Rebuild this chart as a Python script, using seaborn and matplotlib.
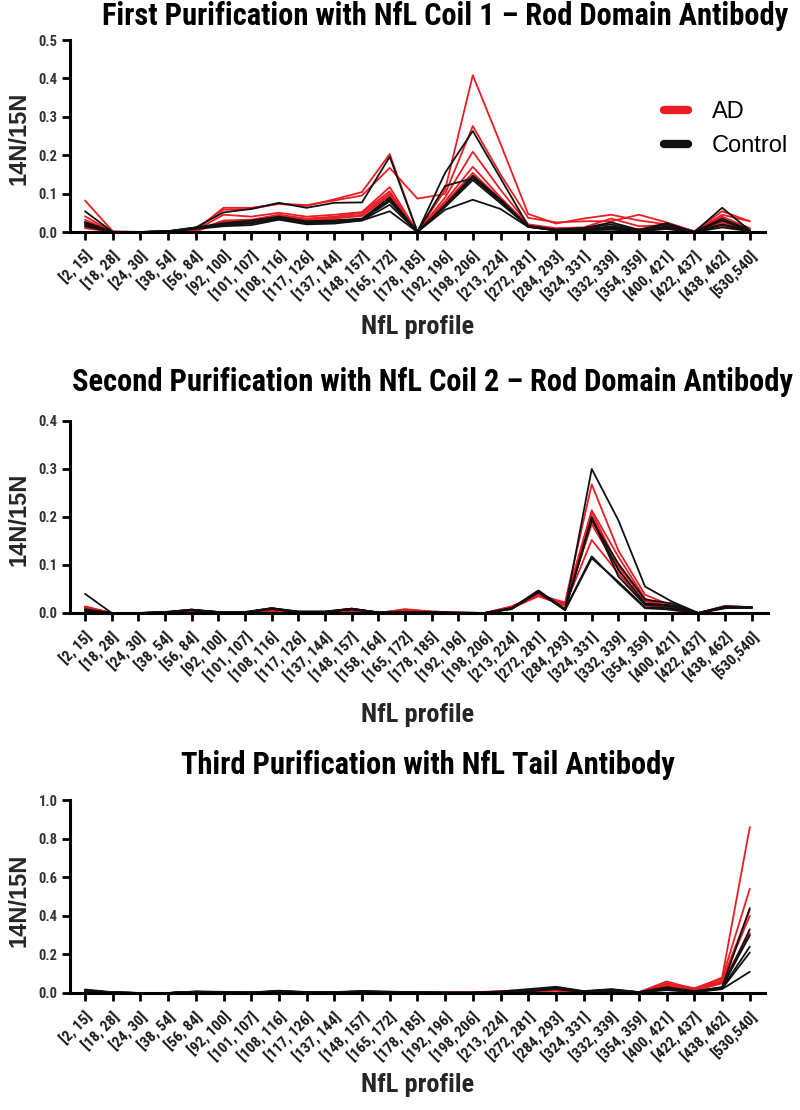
import numpy as np
import pandas as pd
import matplotlib
matplotlib.use("Agg")
import matplotlib.pyplot as plt
import seaborn as sns
from matplotlib.lines import Line2D

# ---------------- data ----------------
cats_a = ["[2, 15]", "[18, 28]", "[24, 30]", "[38, 54]", "[56, 84]", "[92, 100]",
          "[101, 107]", "[108, 116]", "[117, 126]", "[137, 144]", "[148, 157]",
          "[165, 172]", "[178, 185]", "[192, 196]", "[198, 206]", "[213, 224]",
          "[272, 281]", "[284, 293]", "[324, 331]", "[332, 339]", "[354, 359]",
          "[400, 421]", "[422, 437]", "[438, 462]", "[530,540]"]
cats_b = ["[2, 15]", "[18, 28]", "[24, 30]", "[38, 54]", "[56, 84]", "[92, 100]",
          "[101, 107]", "[108, 116]", "[117, 126]", "[137, 144]", "[148, 157]",
          "[158, 164]", "[165, 172]", "[178, 185]", "[192, 196]", "[198, 206]",
          "[213, 224]", "[272, 281]", "[284, 293]", "[324, 331]", "[332, 339]",
          "[354, 359]", "[400, 421]", "[422, 437]", "[438, 462]", "[530,540]"]

p1_ad = [
    [0.082, 0.002, 0.0, 0.002, 0.006, 0.063, 0.063, 0.073, 0.068, 0.085, 0.104, 0.203, 0.0, 0.11, 0.408, 0.23, 0.047, 0.022, 0.035, 0.045, 0.03, 0.02, 0.002, 0.045, 0.028],
    [0.041, 0.0, 0.0, 0.002, 0.008, 0.058, 0.060, 0.074, 0.07, 0.082, 0.095, 0.167, 0.087, 0.099, 0.276, 0.15, 0.037, 0.025, 0.028, 0.028, 0.045, 0.025, 0.002, 0.054, 0.028],
    [0.032, 0.0, 0.0, 0.001, 0.005, 0.045, 0.04, 0.05, 0.04, 0.045, 0.052, 0.117, 0.0, 0.09, 0.209, 0.11, 0.02, 0.01, 0.012, 0.035, 0.015, 0.018, 0.0, 0.04, 0.01],
    [0.013, 0.0, 0.0, 0.001, 0.004, 0.03, 0.032, 0.045, 0.035, 0.04, 0.05, 0.106, 0.0, 0.08, 0.17, 0.09, 0.018, 0.008, 0.01, 0.01, 0.008, 0.012, 0.0, 0.03, 0.008],
    [0.02, 0.0, 0.0, 0.001, 0.003, 0.028, 0.03, 0.042, 0.033, 0.038, 0.045, 0.1, 0.0, 0.075, 0.154, 0.085, 0.016, 0.006, 0.008, 0.012, 0.006, 0.01, 0.0, 0.025, 0.006],
    [0.01, 0.0, 0.0, 0.0, 0.002, 0.025, 0.028, 0.04, 0.03, 0.035, 0.042, 0.095, 0.0, 0.07, 0.145, 0.08, 0.015, 0.005, 0.006, 0.008, 0.005, 0.008, 0.0, 0.015, 0.005],
]
p1_ctrl = [
    [0.054, 0.0, 0.0, 0.002, 0.012, 0.051, 0.06, 0.076, 0.063, 0.076, 0.077, 0.196, 0.0, 0.154, 0.263, 0.14, 0.016, 0.006, 0.01, 0.025, 0.006, 0.023, 0.0, 0.063, 0.004],
    [0.026, 0.0, 0.0, 0.002, 0.012, 0.023, 0.03, 0.04, 0.028, 0.03, 0.035, 0.09, 0.0, 0.07, 0.147, 0.085, 0.015, 0.006, 0.01, 0.02, 0.004, 0.02, 0.0, 0.035, 0.005],
    [0.022, 0.0, 0.0, 0.002, 0.01, 0.02, 0.025, 0.035, 0.025, 0.028, 0.032, 0.08, 0.0, 0.068, 0.141, 0.08, 0.014, 0.005, 0.006, 0.015, 0.003, 0.015, 0.0, 0.02, 0.004],
    [0.018, 0.0, 0.0, 0.001, 0.01, 0.018, 0.022, 0.035, 0.022, 0.025, 0.03, 0.071, 0.0, 0.065, 0.135, 0.075, 0.014, 0.004, 0.005, 0.01, 0.003, 0.01, 0.0, 0.019, 0.003],
    [0.015, 0.0, 0.0, 0.001, 0.008, 0.015, 0.018, 0.032, 0.02, 0.022, 0.03, 0.054, 0.0, 0.058, 0.084, 0.06, 0.013, 0.004, 0.004, 0.006, 0.002, 0.008, 0.0, 0.012, 0.002],
    [0.025, 0.0, 0.0, 0.001, 0.01, 0.02, 0.024, 0.037, 0.026, 0.03, 0.033, 0.085, 0.0, 0.12, 0.14, 0.082, 0.014, 0.005, 0.007, 0.012, 0.004, 0.012, 0.0, 0.03, 0.004],
]

p2_ad = [
    [0.014, 0.0, 0.0, 0.001, 0.006, 0.002, 0.001, 0.003, 0.002, 0.002, 0.004, 0.0, 0.007, 0.003, 0.001, 0.0, 0.013, 0.038, 0.022, 0.268, 0.13, 0.038, 0.015, 0.0, 0.015, 0.012],
    [0.012, 0.0, 0.0, 0.001, 0.005, 0.002, 0.001, 0.004, 0.002, 0.002, 0.004, 0.0, 0.008, 0.003, 0.001, 0.0, 0.012, 0.036, 0.02, 0.214, 0.117, 0.03, 0.012, 0.0, 0.014, 0.012],
    [0.01, 0.0, 0.0, 0.0, 0.006, 0.002, 0.001, 0.003, 0.001, 0.001, 0.003, 0.0, 0.006, 0.002, 0.0, 0.0, 0.011, 0.04, 0.018, 0.21, 0.097, 0.028, 0.01, 0.0, 0.012, 0.011],
    [0.008, 0.0, 0.0, 0.0, 0.004, 0.001, 0.0, 0.002, 0.001, 0.001, 0.003, 0.0, 0.005, 0.002, 0.0, 0.0, 0.01, 0.035, 0.015, 0.185, 0.09, 0.02, 0.008, 0.0, 0.012, 0.012],
    [0.006, 0.0, 0.0, 0.0, 0.003, 0.001, 0.0, 0.002, 0.001, 0.0, 0.002, 0.0, 0.004, 0.001, 0.0, 0.0, 0.012, 0.037, 0.016, 0.152, 0.083, 0.017, 0.006, 0.0, 0.01, 0.013],
    [0.012, 0.0, 0.0, 0.0, 0.005, 0.001, 0.0, 0.003, 0.001, 0.001, 0.003, 0.0, 0.006, 0.002, 0.0, 0.0, 0.014, 0.039, 0.019, 0.2, 0.1, 0.025, 0.01, 0.0, 0.013, 0.012],
]
p2_ctrl = [
    [0.04, 0.0, 0.0, 0.002, 0.007, 0.002, 0.002, 0.01, 0.003, 0.003, 0.009, 0.001, 0.002, 0.002, 0.001, 0.0, 0.01, 0.045, 0.007, 0.30, 0.193, 0.055, 0.024, 0.0, 0.014, 0.012],
    [0.008, 0.0, 0.0, 0.002, 0.007, 0.002, 0.002, 0.01, 0.003, 0.003, 0.009, 0.001, 0.002, 0.001, 0.0, 0.0, 0.01, 0.046, 0.008, 0.193, 0.103, 0.028, 0.02, 0.0, 0.01, 0.012],
    [0.005, 0.0, 0.0, 0.001, 0.006, 0.001, 0.001, 0.009, 0.002, 0.002, 0.008, 0.001, 0.001, 0.001, 0.0, 0.0, 0.009, 0.044, 0.006, 0.2, 0.076, 0.017, 0.014, 0.0, 0.012, 0.011],
    [0.006, 0.0, 0.0, 0.001, 0.006, 0.001, 0.001, 0.009, 0.002, 0.002, 0.008, 0.001, 0.001, 0.001, 0.0, 0.0, 0.009, 0.043, 0.007, 0.118, 0.062, 0.01, 0.007, 0.0, 0.011, 0.011],
    [0.004, 0.0, 0.0, 0.001, 0.006, 0.001, 0.001, 0.008, 0.002, 0.002, 0.008, 0.001, 0.001, 0.001, 0.0, 0.0, 0.008, 0.045, 0.006, 0.114, 0.065, 0.012, 0.01, 0.0, 0.013, 0.01],
    [0.005, 0.0, 0.0, 0.001, 0.007, 0.001, 0.001, 0.01, 0.002, 0.002, 0.009, 0.001, 0.001, 0.001, 0.0, 0.0, 0.01, 0.047, 0.008, 0.195, 0.09, 0.02, 0.016, 0.0, 0.012, 0.012],
]

p3_ad = [
    [0.015, 0.002, 0.0, 0.0, 0.006, 0.005, 0.002, 0.008, 0.004, 0.004, 0.006, 0.005, 0.003, 0.002, 0.003, 0.01, 0.015, 0.02, 0.008, 0.01, 0.004, 0.06, 0.02, 0.08, 0.86],
    [0.012, 0.002, 0.0, 0.0, 0.005, 0.004, 0.002, 0.007, 0.003, 0.003, 0.005, 0.004, 0.003, 0.002, 0.002, 0.008, 0.012, 0.018, 0.006, 0.008, 0.003, 0.052, 0.025, 0.075, 0.54],
    [0.01, 0.001, 0.0, 0.0, 0.004, 0.004, 0.001, 0.006, 0.003, 0.003, 0.004, 0.003, 0.002, 0.001, 0.002, 0.006, 0.01, 0.015, 0.005, 0.007, 0.003, 0.045, 0.018, 0.06, 0.40],
    [0.008, 0.001, 0.0, 0.0, 0.004, 0.003, 0.001, 0.005, 0.002, 0.002, 0.004, 0.003, 0.002, 0.001, 0.001, 0.005, 0.01, 0.012, 0.004, 0.006, 0.002, 0.04, 0.015, 0.055, 0.31],
    [0.01, 0.001, 0.0, 0.0, 0.005, 0.004, 0.002, 0.006, 0.003, 0.003, 0.005, 0.003, 0.002, 0.001, 0.002, 0.007, 0.011, 0.016, 0.005, 0.008, 0.003, 0.035, 0.02, 0.065, 0.43],
    [0.009, 0.001, 0.0, 0.0, 0.004, 0.003, 0.001, 0.005, 0.002, 0.002, 0.004, 0.002, 0.002, 0.001, 0.001, 0.006, 0.009, 0.014, 0.004, 0.006, 0.002, 0.03, 0.012, 0.05, 0.30],
]
p3_ctrl = [
    [0.018, 0.004, 0.0, 0.0, 0.008, 0.006, 0.003, 0.012, 0.005, 0.005, 0.01, 0.007, 0.004, 0.002, 0.002, 0.008, 0.02, 0.032, 0.01, 0.02, 0.005, 0.03, 0.01, 0.03, 0.44],
    [0.015, 0.003, 0.0, 0.0, 0.007, 0.005, 0.002, 0.01, 0.004, 0.004, 0.008, 0.006, 0.003, 0.002, 0.002, 0.006, 0.015, 0.028, 0.008, 0.018, 0.004, 0.025, 0.008, 0.028, 0.33],
    [0.012, 0.003, 0.0, 0.0, 0.006, 0.005, 0.002, 0.009, 0.004, 0.004, 0.008, 0.005, 0.003, 0.001, 0.001, 0.005, 0.012, 0.025, 0.007, 0.015, 0.004, 0.022, 0.006, 0.025, 0.24],
    [0.01, 0.002, 0.0, 0.0, 0.005, 0.004, 0.002, 0.008, 0.003, 0.003, 0.007, 0.004, 0.002, 0.001, 0.001, 0.004, 0.01, 0.022, 0.006, 0.012, 0.003, 0.02, 0.005, 0.022, 0.21],
    [0.008, 0.002, 0.0, 0.0, 0.004, 0.003, 0.001, 0.007, 0.003, 0.003, 0.006, 0.003, 0.002, 0.001, 0.001, 0.004, 0.009, 0.02, 0.005, 0.01, 0.003, 0.015, 0.004, 0.02, 0.11],
    [0.012, 0.003, 0.0, 0.0, 0.006, 0.004, 0.002, 0.009, 0.004, 0.004, 0.008, 0.005, 0.003, 0.002, 0.001, 0.005, 0.012, 0.03, 0.008, 0.016, 0.004, 0.025, 0.007, 0.03, 0.30],
]

titles = ["First Purification with NfL Coil 1 \u2013 Rod Domain Antibody",
          "Second Purification with NfL Coil 2 \u2013 Rod Domain Antibody",
          "Third Purification with NfL Tail Antibody"]
ylims = [0.5, 0.4, 1.0]
ysteps = [0.1, 0.1, 0.2]

RED = "#ec1c24"
BLACK = "#111111"


def long_frame(cats, ad, ctrl):
    rows = []
    for gname, series in (("AD", ad), ("Control", ctrl)):
        for k, s in enumerate(series):
            for c, v in zip(cats, s):
                rows.append({"cat": c, "value": v, "group": gname, "rep": f"{gname}{k}"})
    return pd.DataFrame(rows)


sns.set_theme(style="ticks")
NARROW = ["Roboto Condensed", "PT Sans Narrow", "DejaVu Sans"]
SANS = ["Liberation Sans", "DejaVu Sans"]
plt.rcParams["font.family"] = SANS
plt.rcParams["text.color"] = "black"

W, H = 800, 1110
fig = plt.figure(figsize=(W / 100, H / 100), dpi=100)

# axes boxes in pixels: left, right, top(y at ymax), bottom(y at 0)
boxes = [(70, 765, 40, 232), (70, 768, 421, 613), (70, 765, 800, 993)]
first_tick = [85, 85, 85]
spacing = [27.7, 26.67, 27.7]
title_pos = [(445, 16), (432, 382), (428, 765)]
xlabel_y = [327, 715, 1085]
ylabel_yc = [138, 519, 900]

panels = [(cats_a, p1_ad, p1_ctrl), (cats_b, p2_ad, p2_ctrl), (cats_a, p3_ad, p3_ctrl)]

for i, (cats, ad, ctrl) in enumerate(panels):
    l, r, t, b = boxes[i]
    ax = fig.add_axes([l / W, 1 - b / H, (r - l) / W, (b - t) / H])
    df = long_frame(cats, ad, ctrl)
    sns.lineplot(data=df, x="cat", y="value", hue="group", units="rep",
                 estimator=None, palette={"AD": RED, "Control": BLACK},
                 linewidth=1.3, sort=False, legend=False, ax=ax)
    n = len(cats)
    x0 = (l - first_tick[i]) / spacing[i]
    x1 = (r - first_tick[i]) / spacing[i]
    ax.set_xlim(x0, x1)
    ax.set_ylim(0, ylims[i])
    yt = np.arange(0, ylims[i] + 1e-9, ysteps[i])
    ax.set_yticks(yt)
    ax.set_yticklabels([f"{v:.1f}" for v in yt],
                       family=NARROW, fontsize=10.5, fontweight="bold", color="#333333")
    ax.set_xticks(range(n))
    ax.set_xticklabels(cats, rotation=45, ha="right", rotation_mode="anchor",
                       family=NARROW, fontsize=11, fontweight="bold", color="#1a1a1a")
    sns.despine(ax=ax)
    for s in ("left", "bottom"):
        ax.spines[s].set_linewidth(2.2)
        ax.spines[s].set_color("black")
    ax.tick_params(axis="both", direction="out", length=6, width=2, color="black", pad=3)
    ax.tick_params(axis="x", pad=6)
    ax.set_ylabel("14N/15N", family=SANS, fontsize=17, fontweight="bold")
    ax.yaxis.set_label_coords((31 - l) / (r - l), (b - ylabel_yc[i]) / (b - t))
    ax.set_xlabel("NfL profile", family=NARROW, fontsize=19, fontweight="bold")
    ax.xaxis.set_label_coords((418 - l) / (r - l), (b - xlabel_y[i]) / (b - t))
    ax.xaxis.label.set_va("center")
    tx, ty = title_pos[i]
    fig.text(tx / W, 1 - ty / H, titles[i], ha="center", va="center",
             family=NARROW, fontsize=22, fontweight="bold", color="black")
    if i == 0:
        handles = [Line2D([0], [0], color=RED, lw=6, solid_capstyle="round"),
                   Line2D([0], [0], color=BLACK, lw=6, solid_capstyle="round")]
        ax.legend(handles, ["AD", "Control"], loc="upper left",
                  bbox_to_anchor=((643 - l) / (r - l), (b - 80) / (b - t)),
                  frameon=False, handlelength=1.0, handletextpad=1.0,
                  labelspacing=0.5, prop={"family": SANS, "size": 17})

fig.savefig("out.png", dpi=100)
